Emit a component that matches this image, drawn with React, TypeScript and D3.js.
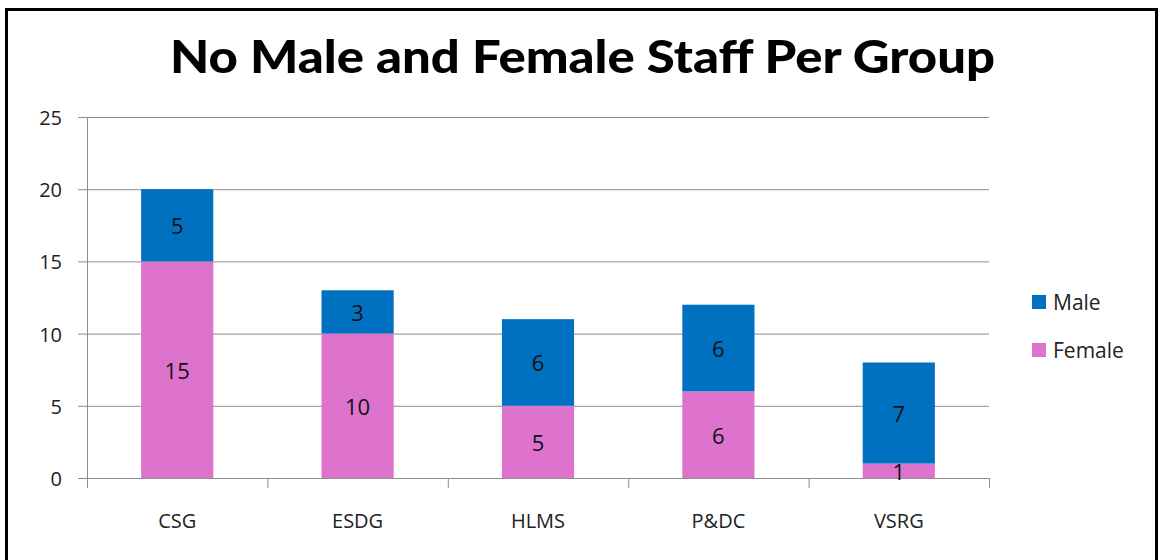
import React, { useEffect, useRef } from "react";
import * as d3 from "d3";

const groups = ["CSG", "ESDG", "HLMS", "P&DC", "VSRG"];
const female = [15, 10, 5, 6, 1];
const male = [5, 3, 6, 6, 7];
const yTicks = [0, 5, 10, 15, 20, 25];
const seriesNames = ["Male", "Female"];

const App = () => {
  const ref = useRef<SVGSVGElement>(null);

  useEffect(() => {
    const svg = d3.select(ref.current);
    svg.selectAll("*").remove();

    const font = "'Open Sans', Lato, sans-serif";
    const colors = { Male: "#0070C0", Female: "#DE73CD" };

    // frame
    svg.append("rect")
      .attr("x", 6.5).attr("y", 9.5)
      .attr("width", 1150).attr("height", 600)
      .attr("fill", "white").attr("stroke", "#000").attr("stroke-width", 3);

    // title
    svg.append("text")
      .attr("x", 170).attr("y", 73)
      .attr("font-family", "Lato, 'Open Sans', sans-serif")
      .attr("font-weight", 900)
      .attr("font-size", 46)
      .attr("textLength", 825)
      .attr("lengthAdjust", "spacingAndGlyphs")
      .attr("fill", "#000")
      .text("No Male and Female Staff Per Group");

    const x = d3.scaleBand().domain(groups).range([87, 989]).padding(0);
    const y = d3.scaleLinear().domain([0, 25]).range([478, 117]);

    // gridlines
    svg.append("g")
      .selectAll("line")
      .data(yTicks)
      .enter()
      .append("line")
      .attr("x1", 78).attr("x2", 989)
      .attr("y1", (d) => y(d) + 0.5).attr("y2", (d) => y(d) + 0.5)
      .attr("stroke", "#8c8c8c").attr("stroke-width", 1);

    // y axis line
    svg.append("line")
      .attr("x1", 87.5).attr("x2", 87.5)
      .attr("y1", y(25)).attr("y2", y(0) + 10)
      .attr("stroke", "#8c8c8c");

    // y labels
    svg.append("g")
      .selectAll("text")
      .data(yTicks)
      .enter()
      .append("text")
      .attr("x", 62).attr("y", (d) => y(d) + 8)
      .attr("text-anchor", "end")
      .attr("font-family", font)
      .attr("font-size", 20)
      .attr("fill", "#222")
      .text((d) => d);

    // category ticks
    const edges = groups.map((g) => x(g)! + x.bandwidth());
    svg.append("g")
      .selectAll("line")
      .data(edges)
      .enter()
      .append("line")
      .attr("x1", (d) => d + 0.5).attr("x2", (d) => d + 0.5)
      .attr("y1", y(0)).attr("y2", y(0) + 10)
      .attr("stroke", "#8c8c8c");

    // category labels
    svg.append("g")
      .selectAll("text")
      .data(groups)
      .enter()
      .append("text")
      .attr("x", (d) => x(d)! + x.bandwidth() / 2)
      .attr("y", 528)
      .attr("text-anchor", "middle")
      .attr("font-family", font)
      .attr("font-size", 20)
      .attr("fill", "#222")
      .text((d) => d);

    // stacked bars
    const rows = groups.map((g, i) => ({ group: g, Female: female[i], Male: male[i] }));
    const stacked = d3.stack<any>().keys(["Female", "Male"])(rows);
    const barW = x.bandwidth() * 0.4;

    stacked.forEach((layer) => {
      const key = layer.key as "Male" | "Female";
      const g = svg.append("g");
      g.selectAll("rect")
        .data(layer)
        .enter()
        .append("rect")
        .attr("x", (d) => x(d.data.group)! + (x.bandwidth() - barW) / 2)
        .attr("y", (d) => y(d[1]))
        .attr("width", barW)
        .attr("height", (d) => y(d[0]) - y(d[1]))
        .attr("fill", colors[key]);
      g.selectAll("text")
        .data(layer)
        .enter()
        .append("text")
        .attr("x", (d) => x(d.data.group)! + x.bandwidth() / 2)
        .attr("y", (d) => (y(d[0]) + y(d[1])) / 2 + 9)
        .attr("text-anchor", "middle")
        .attr("font-family", font)
        .attr("font-size", 22)
        .attr("fill", "#111")
        .text((d) => d[1] - d[0]);
    });

    // legend
    const legend = svg.append("g");
    seriesNames.forEach((name, i) => {
      const cy = 302 + i * 48;
      legend.append("rect")
        .attr("x", 1032).attr("y", cy - 7)
        .attr("width", 14).attr("height", 14)
        .attr("fill", colors[name as "Male" | "Female"]);
      legend.append("text")
        .attr("x", 1053).attr("y", cy + 8)
        .attr("font-family", font)
        .attr("font-size", 21)
        .attr("fill", "#222")
        .text(name);
    });
  }, []);

  return (
    <svg
      ref={ref}
      width={1160}
      height={560}
      style={{ position: "absolute", left: 0, top: 0, background: "white" }}
    />
  );
};

export default App;
